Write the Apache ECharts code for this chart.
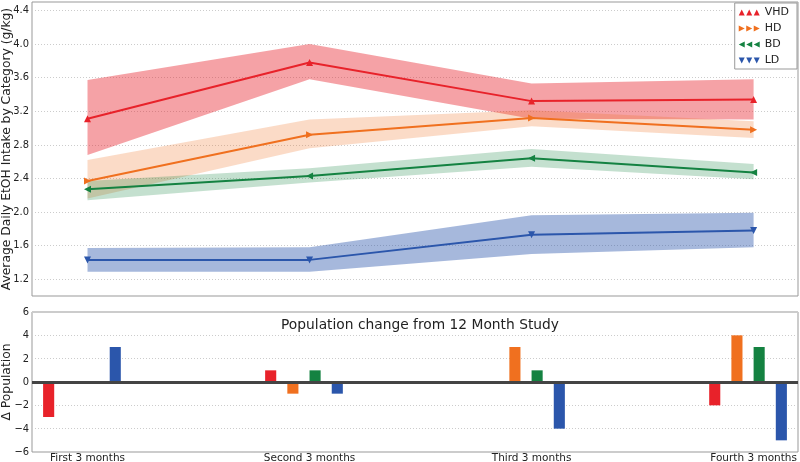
<!DOCTYPE html>
<html><head><meta charset="utf-8">
<script src="https://cdn.jsdelivr.net/npm/echarts@6/dist/echarts.min.js"></script>
<style>html,body{margin:0;padding:0;background:#fff}#c{width:800px;height:462px}</style>
</head><body><div id="c"></div>
<script>
const quarters = ['First 3 months','Second 3 months','Third 3 months','Fourth 3 months'];
const quarterPos = [0, 1, 2, 3];
const seriesNames = ['VHD', 'HD', 'BD', 'LD'];

const vhdMean = [3.11, 3.78, 3.32, 3.34];
const vhdLow  = [2.68, 3.58, 3.11, 3.10];
const vhdHigh = [3.57, 4.00, 3.53, 3.58];
const hdMean  = [2.37, 2.92, 3.12, 2.98];
const hdLow   = [2.16, 2.76, 3.02, 2.88];
const hdHigh  = [2.62, 3.10, 3.21, 3.08];
const bdMean  = [2.27, 2.43, 2.64, 2.47];
const bdLow   = [2.14, 2.35, 2.54, 2.39];
const bdHigh  = [2.37, 2.52, 2.75, 2.57];
const ldMean  = [1.43, 1.43, 1.73, 1.78];
const ldLow   = [1.29, 1.29, 1.50, 1.58];
const ldHigh  = [1.57, 1.58, 1.96, 1.99];

const vhdDelta = [-3, 1, 0, -2];
const hdDelta  = [0, -1, 3, 4];
const bdDelta  = [0, 1, 1, 3];
const ldDelta  = [3, -1, -4, -5];

const topTicks = [1.2, 1.6, 2.0, 2.4, 2.8, 3.2, 3.6, 4.0, 4.4];
const bottomTicks = [-6, -4, -2, 0, 2, 4, 6];

const colors = ['#e8222a', '#f0701f', '#148241', '#2b56ab'];
const bandColors = ['rgba(232,34,42,0.42)', 'rgba(240,112,31,0.25)', 'rgba(20,130,65,0.25)', 'rgba(43,86,171,0.42)'];
const means = [vhdMean, hdMean, bdMean, ldMean];
const lows = [vhdLow, hdLow, bdLow, ldLow];
const highs = [vhdHigh, hdHigh, bdHigh, ldHigh];
const deltas = [vhdDelta, hdDelta, bdDelta, ldDelta];
const rotations = [0, -90, 90, 180];
const legendIcons = [
  'path://M0,8L4,0L8,8ZM10,8L14,0L18,8ZM20,8L24,0L28,8Z',
  'path://M0,0L8,4L0,8ZM10,0L18,4L10,8ZM20,0L28,4L20,8Z',
  'path://M8,0L0,4L8,8ZM18,0L10,4L18,8ZM28,0L20,4L28,8Z',
  'path://M0,0L4,8L8,0ZM10,0L14,8L18,0ZM20,0L24,8L28,0Z'
];
const barOffsets = [-0.175, -0.075, 0.025, 0.125];
const barHalf = 0.025;
const FONT = 'DejaVu Sans';
const FONT_C = '"DejaVu Sans Condensed", "DejaVu Sans"';

const series = [];
for (let k = 0; k < 4; k++) {
  series.push({
    type: 'custom', xAxisIndex: 0, yAxisIndex: 0, silent: true, z: 1,
    data: quarterPos.map((x, i) => [x, lows[k][i], highs[k][i]]),
    encode: { x: 0, y: [1, 2] },
    renderItem: function (params, api) {
      if (params.dataIndex !== 0) return null;
      const pts = [];
      for (let i = 0; i < quarterPos.length; i++) pts.push(api.coord([quarterPos[i], highs[k][i]]));
      for (let i = quarterPos.length - 1; i >= 0; i--) pts.push(api.coord([quarterPos[i], lows[k][i]]));
      return { type: 'polygon', shape: { points: pts }, style: { fill: bandColors[k], stroke: null } };
    }
  });
}
for (let k = 0; k < 4; k++) {
  series.push({
    name: seriesNames[k], type: 'line', xAxisIndex: 0, yAxisIndex: 0, z: 3,
    data: quarterPos.map((x, i) => [x, means[k][i]]),
    symbol: 'triangle', symbolSize: 7, symbolRotate: rotations[k], showSymbol: true,
    lineStyle: { color: colors[k], width: 2 },
    itemStyle: { color: colors[k] },
    animation: false
  });
}
for (let k = 0; k < 4; k++) {
  const s = {
    type: 'custom', xAxisIndex: 1, yAxisIndex: 1, silent: true, z: 2,
    data: quarterPos.map((x, i) => [x, deltas[k][i]]),
    encode: { x: 0, y: 1 },
    renderItem: function (params, api) {
      const x = api.value(0) + barOffsets[k];
      const v = api.value(1);
      const p1 = api.coord([x - barHalf, v]);
      const p2 = api.coord([x + barHalf, 0]);
      return { type: 'rect', shape: { x: Math.min(p1[0], p2[0]), y: Math.min(p1[1], p2[1]), width: Math.abs(p2[0] - p1[0]), height: Math.abs(p2[1] - p1[1]) }, style: { fill: colors[k] } };
    }
  };
  if (k === 0) {
    s.markLine = { silent: true, symbol: 'none', label: { show: false }, z: 5,
      lineStyle: { color: '#444', width: 3, type: 'solid' }, data: [{ yAxis: 0 }], animation: false };
  }
  series.push(s);
}

const gridLine = { show: true, lineStyle: { color: '#ccc', type: [1, 2], width: 1 } };
const axisLbl = { color: '#222', fontSize: 11, fontFamily: FONT_C };

const option = {
  animation: false,
  textStyle: { fontFamily: FONT },
  title: { text: 'Population change from 12 Month Study', left: 415, top: 313, textAlign: 'center',
    textStyle: { fontSize: 13.8, fontWeight: 'normal', color: '#222', fontFamily: FONT } },
  legend: {
    orient: 'vertical', right: 3, top: 3, backgroundColor: '#fff', borderColor: '#999', borderWidth: 1,
    padding: [4, 8, 3, 4], itemGap: 5, itemWidth: 21, itemHeight: 7,
    textStyle: { fontSize: 11, color: '#222', fontFamily: FONT },
    data: seriesNames.map((n, k) => ({ name: n, icon: legendIcons[k] }))
  },
  grid: [
    { left: 32, right: 2, top: 2, height: 294, show: true, borderColor: '#999', borderWidth: 1, backgroundColor: 'transparent', outerBoundsMode: 'none', containLabel: false },
    { left: 32, right: 2, top: 312, height: 140, show: true, borderColor: '#999', borderWidth: 1, backgroundColor: 'transparent', outerBoundsMode: 'none', containLabel: false }
  ],
  xAxis: [
    { type: 'value', gridIndex: 0, min: -0.25, max: 3.2, axisLine: { show: false }, axisTick: { show: false },
      axisLabel: { show: false }, splitLine: { show: false } },
    { type: 'value', gridIndex: 1, min: -0.25, max: 3.2, axisLine: { show: false },
      axisTick: { show: false, customValues: quarterPos },
      axisLabel: { customValues: quarterPos, formatter: v => quarters[Math.round(v)] || '', color: '#222', fontSize: 10.5, fontFamily: FONT, margin: 1, hideOverlap: false },
      splitLine: { show: false } }
  ],
  yAxis: [
    { type: 'value', gridIndex: 0, min: 1.0, max: 4.5, axisLine: { show: false },
      axisTick: { show: false, customValues: topTicks },
      axisLabel: Object.assign({ customValues: topTicks, formatter: v => v.toFixed(1), margin: 3 }, axisLbl),
      splitLine: gridLine,
      name: 'Average Daily EtOH Intake by Category (g/kg)', nameLocation: 'middle', nameGap: 19, nameRotate: 90, nameMoveOverlap: false,
      nameTextStyle: { fontSize: 12.3, color: '#222', fontFamily: FONT } },
    { type: 'value', gridIndex: 1, min: -6, max: 6, axisLine: { show: false },
      axisTick: { show: false, customValues: bottomTicks },
      axisLabel: Object.assign({ customValues: bottomTicks, formatter: v => String(v).replace('-', '\u2212'), margin: 3 }, axisLbl),
      splitLine: gridLine,
      name: '\u0394 Population', nameLocation: 'middle', nameGap: 19, nameRotate: 90, nameMoveOverlap: false,
      nameTextStyle: { fontSize: 12.3, color: '#222', fontFamily: FONT } }
  ],
  series: series
};
const chart = echarts.init(document.getElementById('c'), null, { renderer: 'canvas' });
chart.setOption(option);
</script></body></html>
